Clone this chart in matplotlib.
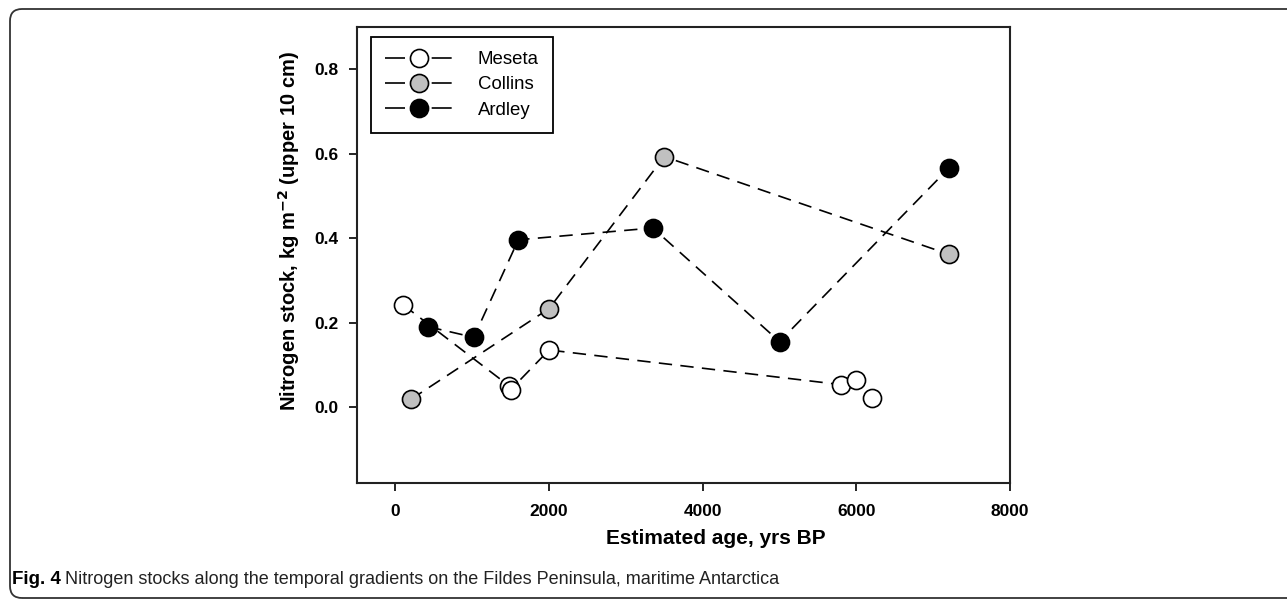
import matplotlib.pyplot as plt
from matplotlib.patches import FancyBboxPatch

# data
meseta_age = [100, 1480, 1500, 2000, 5800, 6000, 6200]
meseta_n = [0.242, 0.050, 0.041, 0.135, 0.053, 0.065, 0.022]

collins_age = [200, 2000, 3500, 7200]
collins_n = [0.018, 0.233, 0.593, 0.362]

ardley_age = [430, 1020, 1600, 3350, 5000, 7200]
ardley_n = [0.190, 0.165, 0.396, 0.424, 0.155, 0.565]

x_ticks = [0, 2000, 4000, 6000, 8000]
y_ticks = [0.0, 0.2, 0.4, 0.6, 0.8]

plt.rcParams['font.family'] = ['Liberation Sans', 'DejaVu Sans']

fig = plt.figure(figsize=(12.87, 6.03), dpi=100)

# rounded panel border (inches)
panel = FancyBboxPatch((0.10, 0.05), 12.9, 5.89,
                       boxstyle="round,pad=0,rounding_size=0.12",
                       transform=fig.dpi_scale_trans, fill=False,
                       edgecolor='#333333', linewidth=1.3)
fig.patches.append(panel)

ax = fig.add_axes([357 / 1287, 1 - 483 / 603, 653 / 1287, 456 / 603])

style = dict(color='black', linestyle=(0, (8, 5)), linewidth=1.2,
             marker='o', markersize=13, markeredgecolor='black',
             markeredgewidth=1.2)
ax.plot(meseta_age, meseta_n, markerfacecolor='white', label='Meseta', **style)
ax.plot(collins_age, collins_n, markerfacecolor='#c0c0c0', label='Collins', **style)
ax.plot(ardley_age, ardley_n, markerfacecolor='black', label='Ardley', **style)

ax.set_xlim(-500, 8000)
ax.set_ylim(-0.18, 0.9)
ax.set_xticks(x_ticks)
ax.set_yticks(y_ticks)
ax.set_yticklabels(['%.1f' % v for v in y_ticks])
ax.tick_params(direction='out', length=6, width=1.2, labelsize=12.5)
ax.tick_params(axis='x', pad=9)
ax.tick_params(axis='y', pad=7)
for lab in ax.get_xticklabels() + ax.get_yticklabels():
    lab.set_fontweight('bold')
for sp in ax.spines.values():
    sp.set_linewidth(1.5)
    sp.set_color('#222222')

ax.set_xlabel('Estimated age, yrs BP', fontsize=15, fontweight='bold', labelpad=7)
ax.xaxis.label.set_x(0.55)
ax.set_ylabel('Nitrogen stock, kg m$^{\\mathbf{-2}}$ (upper 10 cm)',
              fontsize=14.5, fontweight='bold', labelpad=9)
ax.yaxis.label.set_y(0.553)

leg = ax.legend(loc='upper left', bbox_to_anchor=(0.0214, 0.978),
                borderaxespad=0, fontsize=13.4,
                handlelength=3.65, handletextpad=1.35, borderpad=0.75,
                labelspacing=0.45, fancybox=False, edgecolor='black',
                framealpha=1)
leg.get_frame().set_linewidth(1.3)
for h in leg.get_lines():
    h.set_linestyle((0, (12, 16)))

fig.text(12 / 1287, 1 - 580 / 603, 'Fig. 4', fontsize=13.5, fontweight='bold',
         va='center', family=['Liberation Sans Narrow', 'Liberation Sans'])
fig.text(65 / 1287, 1 - 580 / 603,
         'Nitrogen stocks along the temporal gradients on the Fildes Peninsula, maritime Antarctica',
         fontsize=13, va='center', color='#222222',
         family=['Liberation Sans Narrow', 'Liberation Sans'])

fig.savefig('out.png', dpi=100)
